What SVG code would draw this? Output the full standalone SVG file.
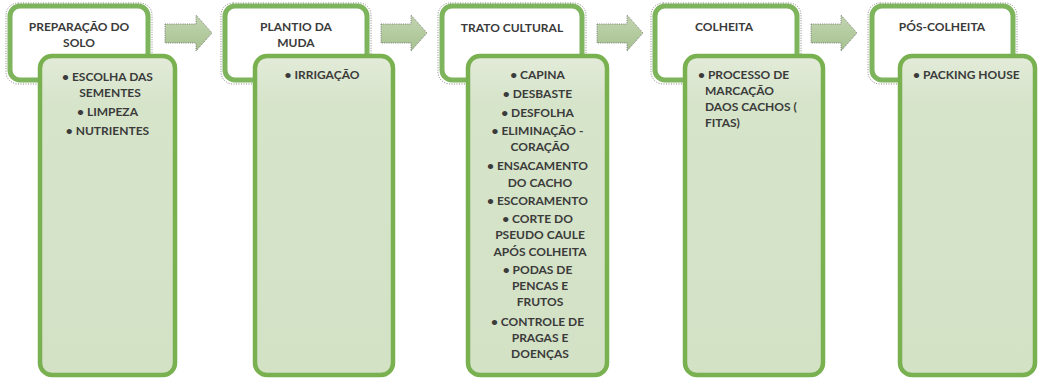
<svg xmlns="http://www.w3.org/2000/svg" width="1038" height="380" viewBox="0 0 1038 380">
<defs>
<linearGradient id="bg" x1="0" y1="0" x2="0" y2="1">
<stop offset="0" stop-color="#e2ebd8"/>
<stop offset="0.15" stop-color="#d6e4ca"/>
<stop offset="1" stop-color="#d3e1c5"/>
</linearGradient>
<linearGradient id="ag" x1="0" y1="0" x2="0" y2="1">
<stop offset="0" stop-color="#c2d5b0"/>
<stop offset="1" stop-color="#a6c190"/>
</linearGradient>
</defs>
<style>
.hd{fill:#ffffff;stroke:#7db45c;stroke-width:5}
.hs{fill:none;stroke:#666;stroke-width:0.8;stroke-dasharray:1 1.5}
.bd{fill:url(#bg);stroke:#79b150;stroke-width:4.5}
.ar{fill:url(#ag);stroke:#666;stroke-width:0.8;stroke-dasharray:1 1.2}
text{font-family:Lato,"Open Sans","Liberation Sans",sans-serif;font-weight:bold;font-size:12px;fill:#3b3b3b}
.c{text-anchor:middle}
</style>
<rect width="1038" height="380" fill="#ffffff"/>
<g id="connectors">
<path class="ar" d="M165,24 H196 V15 L212,33 L196,51 V43 H165 Z"/>
<path class="ar" d="M381,24 H411 V15 L427,33 L411,51 V43 H381 Z"/>
<path class="ar" d="M597,24 H627 V15 L643,33 L627,51 V43 H597 Z"/>
<path class="ar" d="M811,24 H841 V15 L857,33 L841,51 V43 H811 Z"/>
</g>
<g id="n1">
<rect class="hs" x="6" y="3" width="146" height="81" rx="12"/>
<rect class="hd" x="10" y="6" width="138" height="74" rx="10"/>
<text class="c" x="79" y="31">PREPARAÇÃO DO</text>
<text class="c" x="79" y="47">SOLO</text>
<rect class="bd" x="40" y="56" width="135" height="319" rx="12"/>
<text class="c" x="107.5" y="81">• ESCOLHA DAS</text>
<text class="c" x="110" y="97">SEMENTES</text>
<text class="c" x="107.5" y="116">• LIMPEZA</text>
<text class="c" x="107.5" y="135">• NUTRIENTES</text>
</g>
<g id="n2">
<rect class="hs" x="221" y="3" width="150" height="81" rx="12"/>
<rect class="hd" x="225" y="6" width="142" height="74" rx="10"/>
<text class="c" x="296" y="31">PLANTIO DA</text>
<text class="c" x="296" y="47">MUDA</text>
<rect class="bd" x="255" y="56" width="138" height="319" rx="12"/>
<text class="c" x="322" y="79">• IRRIGAÇÃO</text>
</g>
<g id="n3">
<rect class="hs" x="438" y="3" width="148" height="81" rx="12"/>
<rect class="hd" x="442" y="6" width="140" height="74" rx="10"/>
<text class="c" x="512" y="32">TRATO CULTURAL</text>
<rect class="bd" x="468" y="56" width="139" height="319" rx="12"/>
<text class="c" x="537.5" y="79">• CAPINA</text>
<text class="c" x="537.5" y="98">• DESBASTE</text>
<text class="c" x="537.5" y="117">• DESFOLHA</text>
<text class="c" x="537.5" y="135">• ELIMINAÇÃO -</text>
<text class="c" x="540" y="151">CORAÇÃO</text>
<text class="c" x="537.5" y="170">• ENSACAMENTO</text>
<text class="c" x="540" y="187">DO CACHO</text>
<text class="c" x="537.5" y="205">• ESCORAMENTO</text>
<text class="c" x="537.5" y="223">• CORTE DO</text>
<text class="c" x="540" y="239">PSEUDO CAULE</text>
<text class="c" x="540" y="256">APÓS COLHEITA</text>
<text class="c" x="537.5" y="274">• PODAS DE</text>
<text class="c" x="540" y="290">PENCAS E</text>
<text class="c" x="540" y="306">FRUTOS</text>
<text class="c" x="537.5" y="326">• CONTROLE DE</text>
<text class="c" x="540" y="342">PRAGAS E</text>
<text class="c" x="540" y="358">DOENÇAS</text>
</g>
<g id="n4">
<rect class="hs" x="651" y="3" width="150" height="81" rx="12"/>
<rect class="hd" x="655" y="6" width="142" height="74" rx="10"/>
<text class="c" x="724" y="31">COLHEITA</text>
<rect class="bd" x="685" y="56" width="138" height="319" rx="12"/>
<text x="698" y="79">• PROCESSO DE</text>
<text x="705" y="95">MARCAÇÃO</text>
<text x="705" y="111">DAOS CACHOS (</text>
<text x="705" y="127">FITAS)</text>
</g>
<g id="n5">
<rect class="hs" x="868" y="3" width="149" height="81" rx="12"/>
<rect class="hd" x="872" y="6" width="141" height="74" rx="10"/>
<text class="c" x="942" y="31">PÓS-COLHEITA</text>
<rect class="bd" x="900" y="56" width="135" height="319" rx="12"/>
<text x="913" y="79">• PACKING HOUSE</text>
</g>
</svg>
